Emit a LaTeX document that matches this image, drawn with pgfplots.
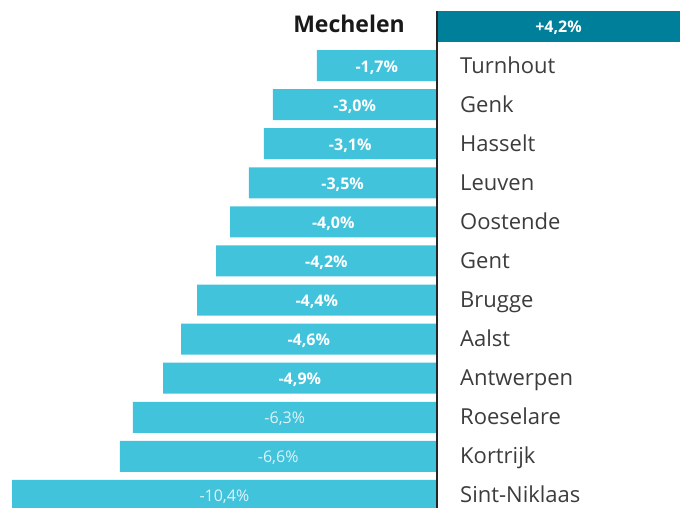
\documentclass[border=0pt]{standalone}
\usepackage{fontspec}
\setmainfont{Open Sans}
\usepackage{pgfplots}
\usepackage{pgfplotstable}
\pgfplotsset{compat=1.18}
\definecolor{barlight}{RGB}{66,195,220}
\definecolor{bardark}{RGB}{0,127,155}
\definecolor{citytxt}{RGB}{60,60,60}
\definecolor{paletxt}{RGB}{225,242,248}
% idx: row (0 = top); len: drawn bar length; lab: printed value
\pgfplotstableread{
idx len lab city
0 5.98 +4,2\% Mechelen
}\mechdata
\pgfplotstableread{
idx len lab city
1 -2.93 -1,7\% Turnhout
2 -4.01 -3,0\% Genk
3 -4.23 -3,1\% Hasselt
4 -4.60 -3,5\% Leuven
5 -5.06 -4,0\% Oostende
6 -5.40 -4,2\% Gent
7 -5.87 -4,4\% Brugge
8 -6.26 -4,6\% Aalst
9 -6.70 -4,9\% Antwerpen
10 -7.44 -6,3\% Roeselare
11 -7.76 -6,6\% Kortrijk
12 -10.40 -10,4\% Sint-Niklaas
}\negdata
\begin{document}
\begin{tikzpicture}
\clip (0,0) rectangle (687pt,507pt);
\begin{axis}[
  at={(0,0)}, anchor=south west,
  scale only axis, width=687pt, height=507pt,
  xmin=-10.699, xmax=6.140,
  ymin=-0.678, ymax=12.295,
  y dir=reverse,
  hide axis,
  clip=true,
]
\addplot[xbar, bar shift=0pt, bar width=31pt, fill=bardark, draw=none] table[x=len, y=idx] {\mechdata};
\addplot[xbar, bar shift=0pt, bar width=31pt, fill=barlight, draw=none] table[x=len, y=idx] {\negdata};
% value labels
\addplot[draw=none, mark=none, nodes near coords, point meta=explicit symbolic,
  nodes near coords align=center,
  every node near coord/.style={anchor=base, yshift=-6pt, text=white, font=\fontsize{16}{18}\selectfont\bfseries}]
  table[x expr=\thisrow{len}/2, y=idx, meta=lab] {\mechdata};
\addplot[draw=none, mark=none, nodes near coords, point meta=explicit symbolic,
  nodes near coords align=center,
  every node near coord/.style={anchor=base, yshift=-6.5pt, text=white, font=\fontsize{16}{18}\selectfont\bfseries}]
  table[x expr=\thisrow{len}/2, y=idx, meta=lab, skip coords between index={9}{12}] {\negdata};
\addplot[draw=none, mark=none, nodes near coords, point meta=explicit symbolic,
  nodes near coords align=center,
  every node near coord/.style={anchor=base, yshift=-6.5pt, text=paletxt, font=\fontsize{16}{18}\selectfont}]
  table[x expr=\thisrow{len}/2, y=idx, meta=lab, skip coords between index={0}{9}] {\negdata};
% city names
\addplot[draw=none, mark=none, nodes near coords, point meta=explicit symbolic,
  every node near coord/.style={anchor=base west, inner sep=0pt, yshift=-7.5pt, text=citytxt, font=\fontsize{22}{26}\selectfont}]
  table[x expr=0.576, y=idx, meta=city] {\negdata};
\addplot[draw=none, mark=none, nodes near coords, point meta=explicit symbolic,
  every node near coord/.style={anchor=base east, inner sep=0pt, yshift=-5.5pt, text=black!90, font=\fontsize{23}{26}\selectfont\bfseries}]
  table[x expr=-0.772, y=idx, meta=city] {\mechdata};
\draw[black!85, line width=2pt] (axis cs:0,-0.40) -- (axis cs:0,12.4);
\end{axis}
\end{tikzpicture}
\end{document}
